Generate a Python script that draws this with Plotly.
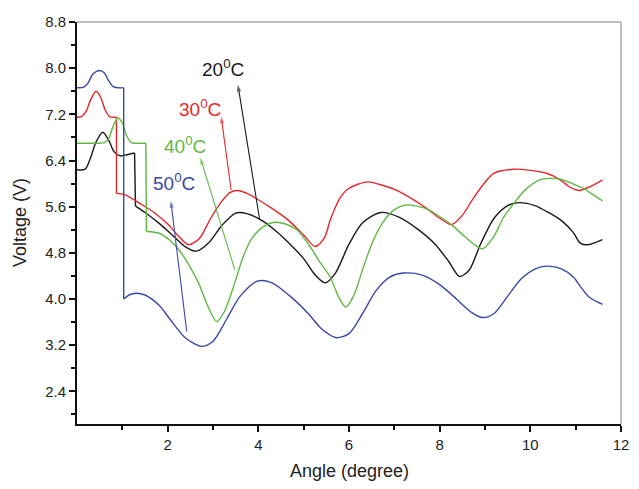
import plotly.graph_objects as go

# ---------------- data ----------------
# 20 °C (black)
angle_20_head = [0.0, 0.18, 0.30, 0.42, 0.57, 0.70, 0.82, 0.95, 1.10, 1.27]
volt_20_head = [6.24, 6.25, 6.45, 6.72, 6.89, 6.75, 6.55, 6.48, 6.50, 6.53]
angle_20_body = [1.29, 1.5, 1.8, 2.1, 2.4, 2.64, 2.9, 3.2, 3.5, 3.75, 4.1, 4.4, 4.7, 5.0,
                 5.25, 5.47, 5.7, 6.0, 6.3, 6.7, 7.1, 7.5, 7.9, 8.2, 8.44, 8.65, 8.9,
                 9.2, 9.5, 9.75, 10.1, 10.4, 10.7, 10.95, 11.1, 11.25, 11.4, 11.59]
volt_20_body = [5.61, 5.50, 5.32, 5.11, 4.90, 4.83, 4.97, 5.28, 5.49, 5.48, 5.35, 5.17, 4.95, 4.70,
                4.42, 4.28, 4.45, 4.95, 5.32, 5.50, 5.42, 5.22, 4.95, 4.65, 4.39, 4.50, 4.95,
                5.40, 5.62, 5.67, 5.62, 5.50, 5.35, 5.15, 4.97, 4.94, 4.97, 5.03]

# 30 °C (red)
angle_30_head = [0.0, 0.10, 0.20, 0.30, 0.42, 0.52, 0.62, 0.72, 0.87]
volt_30_head = [7.15, 7.16, 7.25, 7.45, 7.60, 7.50, 7.28, 7.16, 7.15]
angle_30_body = [0.87, 1.05, 1.4, 1.7, 2.0, 2.25, 2.46, 2.7, 2.95, 3.2, 3.38, 3.55, 3.75, 4.0, 4.3,
                 4.64, 5.0, 5.25, 5.45, 5.6, 5.8, 6.0, 6.41, 6.7, 7.03, 7.4, 7.75, 8.0,
                 8.26, 8.5, 8.77, 9.2, 9.64, 10.0, 10.36, 10.65, 10.85, 10.98, 11.1,
                 11.23, 11.4, 11.59]
volt_30_body = [5.83, 5.81, 5.65, 5.50, 5.30, 5.08, 4.94, 5.05, 5.40, 5.70, 5.85, 5.88, 5.83, 5.72, 5.57,
                5.38, 5.11, 4.91, 5.05, 5.40, 5.75, 5.92, 6.03, 5.98, 5.89, 5.73, 5.55, 5.40,
                5.29, 5.45, 5.78, 6.18, 6.25, 6.23, 6.18, 6.07, 5.95, 5.90, 5.88,
                5.92, 5.98, 6.06]

# 40 °C (green)
angle_40_head = [0.0, 0.30, 0.60, 0.70, 0.80, 0.90, 1.00, 1.10, 1.20, 1.35, 1.52]
volt_40_head = [6.70, 6.70, 6.71, 6.78, 7.00, 7.14, 7.05, 6.82, 6.71, 6.70, 6.70]
angle_40_body = [1.53, 1.81, 2.05, 2.25, 2.5, 2.68, 2.9, 3.08, 3.25, 3.48, 3.65, 3.84, 4.1, 4.35,
                 4.6, 4.85, 5.14, 5.35, 5.58, 5.78, 5.93, 6.1, 6.3, 6.5, 6.74, 7.0, 7.25,
                 7.5, 7.75, 8.0, 8.26, 8.5, 8.77, 8.95, 9.2, 9.4, 9.64, 9.9, 10.22,
                 10.45, 10.65, 10.9, 11.16, 11.4, 11.59]
volt_40_body = [5.17, 5.14, 5.02, 4.85, 4.55, 4.28, 3.85, 3.61, 3.78, 4.28, 4.70, 5.03, 5.25, 5.33,
                5.30, 5.20, 4.91, 4.65, 4.39, 4.02, 3.86, 4.05, 4.51, 4.95, 5.32, 5.55, 5.63,
                5.61, 5.55, 5.43, 5.29, 5.12, 4.94, 4.87, 5.09, 5.40, 5.66, 5.90, 6.07,
                6.09, 6.08, 6.01, 5.92, 5.80, 5.70]

# 50 °C (blue)
angle_50_head = [0.0, 0.15, 0.25, 0.35, 0.50, 0.60, 0.70, 0.80, 0.90, 1.03]
volt_50_head = [7.66, 7.67, 7.75, 7.90, 7.96, 7.92, 7.78, 7.68, 7.66, 7.66]
angle_50_body = [1.03, 1.15, 1.3, 1.5, 1.8, 2.1, 2.4, 2.75, 3.0, 3.3, 3.6, 3.98, 4.3, 4.7,
                 5.1, 5.4, 5.72, 6.0, 6.3, 6.6, 6.9, 7.2, 7.6, 8.0, 8.4, 8.7, 8.95,
                 9.2, 9.5, 9.8, 10.1, 10.36, 10.7, 10.95, 11.1, 11.3, 11.59]
volt_50_body = [4.00, 4.07, 4.10, 4.07, 3.90, 3.60, 3.32, 3.18, 3.27, 3.65, 4.05, 4.31, 4.28, 4.05,
                3.75, 3.48, 3.33, 3.40, 3.75, 4.15, 4.38, 4.45, 4.42, 4.25, 3.98, 3.77, 3.68,
                3.75, 4.05, 4.35, 4.52, 4.57, 4.52, 4.38, 4.22, 4.03, 3.91]

series_names = ["20<sup>0</sup>C", "30<sup>0</sup>C", "40<sup>0</sup>C", "50<sup>0</sup>C"]
colors = ["#1a1a1a", "#e8262a", "#5fb844", "#3a47a6"]

# label text anchors and arrow (tail -> tip) in data units
label_x = [3.22, 2.72, 2.38, 2.14]
label_y = [8.01, 7.31, 6.67, 6.03]
arrow_tip_x = [3.55, 3.18, 2.72, 2.07]
arrow_tip_y = [7.71, 7.16, 6.45, 5.70]
arrow_tail_x = [4.03, 3.40, 3.48, 2.42]
arrow_tail_y = [5.37, 5.89, 4.51, 3.44]

x_ticks = [2, 4, 6, 8, 10, 12]
x_minor = [1, 3, 5, 7, 9, 11]
y_ticks = [2.4, 3.2, 4.0, 4.8, 5.6, 6.4, 7.2, 8.0, 8.8]
y_minor = [2.0, 2.8, 3.6, 4.4, 5.2, 6.0, 6.8, 7.6, 8.4]

heads = [(angle_20_head, volt_20_head), (angle_30_head, volt_30_head),
         (angle_40_head, volt_40_head), (angle_50_head, volt_50_head)]
bodies = [(angle_20_body, volt_20_body), (angle_30_body, volt_30_body),
          (angle_40_body, volt_40_body), (angle_50_body, volt_50_body)]

fig = go.Figure()
LW = 1.4
for (hx, hy), (bx, by), c in zip(heads, bodies, colors):
    fig.add_trace(go.Scatter(x=hx, y=hy, mode="lines",
                             line=dict(color=c, width=LW, shape="spline", smoothing=0.8),
                             showlegend=False, hoverinfo="skip"))
    fig.add_trace(go.Scatter(x=[hx[-1], bx[0]], y=[hy[-1], by[0]], mode="lines",
                             line=dict(color=c, width=LW), showlegend=False, hoverinfo="skip"))
    fig.add_trace(go.Scatter(x=bx, y=by, mode="lines",
                             line=dict(color=c, width=LW, shape="spline", smoothing=0.8),
                             showlegend=False, hoverinfo="skip"))

# pointer arrows (line + arrow-head marker at the tip)
for i, c in enumerate(colors):
    fig.add_trace(go.Scatter(x=[arrow_tail_x[i], arrow_tip_x[i]],
                             y=[arrow_tail_y[i], arrow_tip_y[i]],
                             mode="lines+markers",
                             line=dict(color=c, width=1.1),
                             marker=dict(symbol=["circle", "arrow"], size=[0, 7], color=c,
                                         angleref="previous", line=dict(width=0)),
                             showlegend=False, hoverinfo="skip"))

FONT = "Liberation Sans, Arial, sans-serif"
annotations = []
for i, name in enumerate(series_names):
    annotations.append(dict(x=label_x[i], y=label_y[i], xref="x", yref="y", text=name,
                            showarrow=False, font=dict(family=FONT, size=19, color=colors[i]),
                            xanchor="center", yanchor="middle"))

annotations.append(dict(x=0.5, y=0, xref="paper", yref="paper", text="Angle (degree)",
                        showarrow=False, xanchor="center", yanchor="top", yshift=-35,
                        font=dict(family=FONT, size=18, color="#222")))
annotations.append(dict(x=0, y=0.5, xref="paper", yref="paper", text="Voltage (V)",
                        showarrow=False, xanchor="center", yanchor="middle", xshift=-57,
                        textangle=-90, font=dict(family=FONT, size=18, color="#222")))

fig.update_layout(
    width=639, height=489,
    margin=dict(l=77, r=10, t=22, b=65),
    paper_bgcolor="white", plot_bgcolor="white",
    font=dict(family=FONT, size=15, color="#222"),
    annotations=annotations,
    shapes=[
        dict(type="line", xref="paper", yref="paper", x0=0, x1=1, y0=1, y1=1,
             line=dict(color="#a8a8a8", width=1.5)),
        dict(type="line", xref="paper", yref="paper", x0=1, x1=1, y0=0, y1=1,
             line=dict(color="#a8a8a8", width=1.5)),
    ],
    xaxis=dict(range=[0, 12], tickmode="array", tickvals=x_ticks,
               ticktext=[str(v) for v in x_ticks],
               showgrid=False, zeroline=False, showline=True, linecolor="#111", linewidth=2,
               ticks="outside", ticklen=6, tickwidth=1.5, tickcolor="#111",
               tickfont=dict(family=FONT, size=15, color="#222"),
               minor=dict(tickmode="array", tickvals=x_minor, ticks="outside", ticklen=4,
                          tickwidth=1.5, tickcolor="#111", showgrid=False)),
    yaxis=dict(range=[1.835, 8.8], tickmode="array", tickvals=y_ticks,
               ticktext=["%.1f" % v for v in y_ticks],
               showgrid=False, zeroline=False, showline=True, linecolor="#111", linewidth=2,
               ticks="outside", ticklen=6, tickwidth=1.5, tickcolor="#111",
               tickfont=dict(family=FONT, size=15, color="#222"),
               minor=dict(tickmode="array", tickvals=y_minor, ticks="outside", ticklen=4,
                          tickwidth=1.5, tickcolor="#111", showgrid=False)),
)

fig.write_html("out.html")
